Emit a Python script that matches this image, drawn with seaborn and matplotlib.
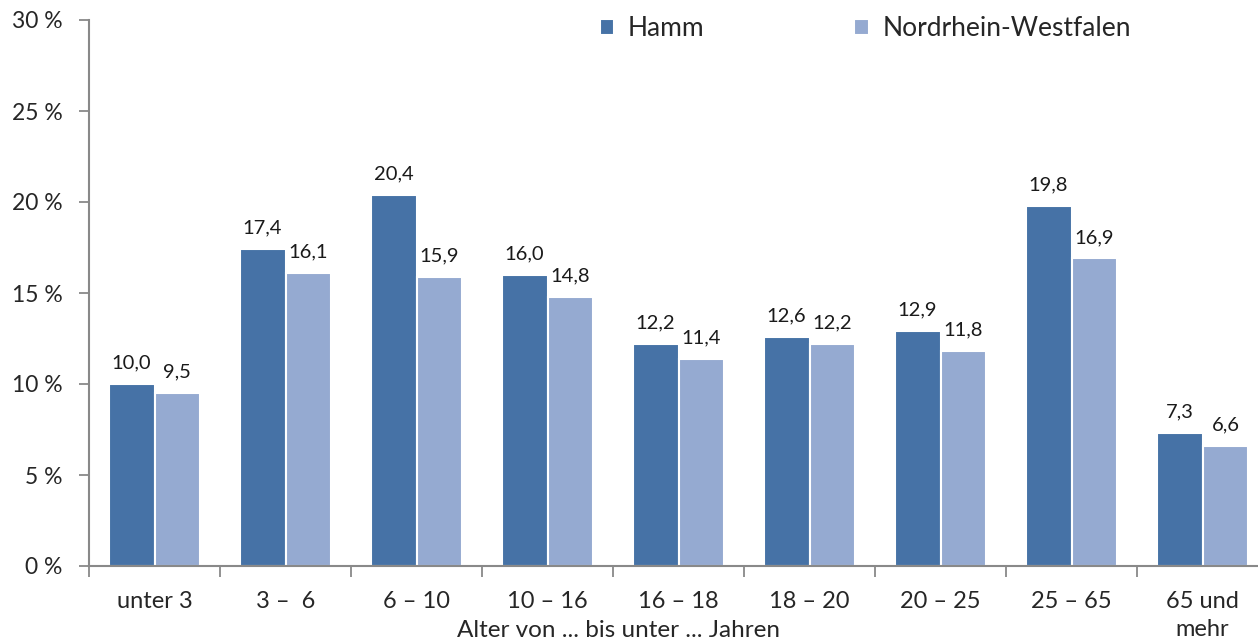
import pandas as pd
import matplotlib.pyplot as plt
import seaborn as sns
from matplotlib.ticker import FixedLocator

# Altersgruppen und Anteile (%)
gruppen = ['unter 3', '3 –  6', '6 – 10', '10 – 16', '16 – 18', '18 – 20', '20 – 25', '25 – 65', '65 und\nmehr']
hamm = [10.0, 17.4, 20.4, 16.0, 12.2, 12.6, 12.9, 19.8, 7.3]
nrw = [9.5, 16.1, 15.9, 14.8, 11.4, 12.2, 11.8, 16.9, 6.6]
serien = ['Hamm', 'Nordrhein-Westfalen']
farben = ['#4672a6', '#95aad1']

df = pd.DataFrame({
    'Gruppe': gruppen * 2,
    'Wert': hamm + nrw,
    'Gebiet': [serien[0]] * len(gruppen) + [serien[1]] * len(gruppen),
})

sns.set_theme(style='white')
plt.rcParams['font.family'] = ['Lato', 'DejaVu Sans']

fig = plt.figure(figsize=(12.58, 6.41), dpi=100)
ax = fig.add_axes([89 / 1258, 1 - 566 / 641, 1179 / 1258, 546 / 641])

sns.barplot(data=df, x='Gruppe', y='Wert', hue='Gebiet', palette=farben,
            width=0.7, edgecolor='white', linewidth=1.5, saturation=1, ax=ax)

for cont in ax.containers:
    ax.bar_label(cont, labels=[f'{v:.1f}'.replace('.', ',') for v in cont.datavalues],
                 padding=9, fontsize=14.5, color='#1a1a1a')

ax.set_xlim(-0.5, len(gruppen) - 0.5)
ax.set_ylim(0, 30)
ax.set_yticks(range(0, 31, 5))
ax.set_yticklabels([f'{t} %' for t in range(0, 31, 5)], fontsize=16.5)
ax.tick_params(axis='y', length=7, width=1.3, color='#898989', pad=12, left=True)
ax.tick_params(axis='x', which='major', length=0, pad=18, labelsize=17)
for lab in ax.get_xticklabels():
    lab.set_linespacing(1.4)
ax.xaxis.set_minor_locator(FixedLocator([i - 0.5 for i in range(len(gruppen) + 1)]))
ax.tick_params(axis='x', which='minor', length=8, width=1.3, color='#898989', bottom=True)

sns.despine(ax=ax)
for s in ['left', 'bottom']:
    ax.spines[s].set_color('#898989')
    ax.spines[s].set_linewidth(1.5)

ax.set_xlabel('Alter von ... bis unter ... Jahren', fontsize=17.5, labelpad=0)
ax.xaxis.set_label_coords(0.449, -0.098)
ax.set_ylabel('')

ax.legend(title=None, ncol=2, frameon=False, fontsize=19, loc='upper left',
          bbox_to_anchor=(0.413, 1.05), handlelength=0.55, handleheight=0.55,
          handletextpad=0.5, columnspacing=5.7)

fig.savefig('out.png', dpi=100)
